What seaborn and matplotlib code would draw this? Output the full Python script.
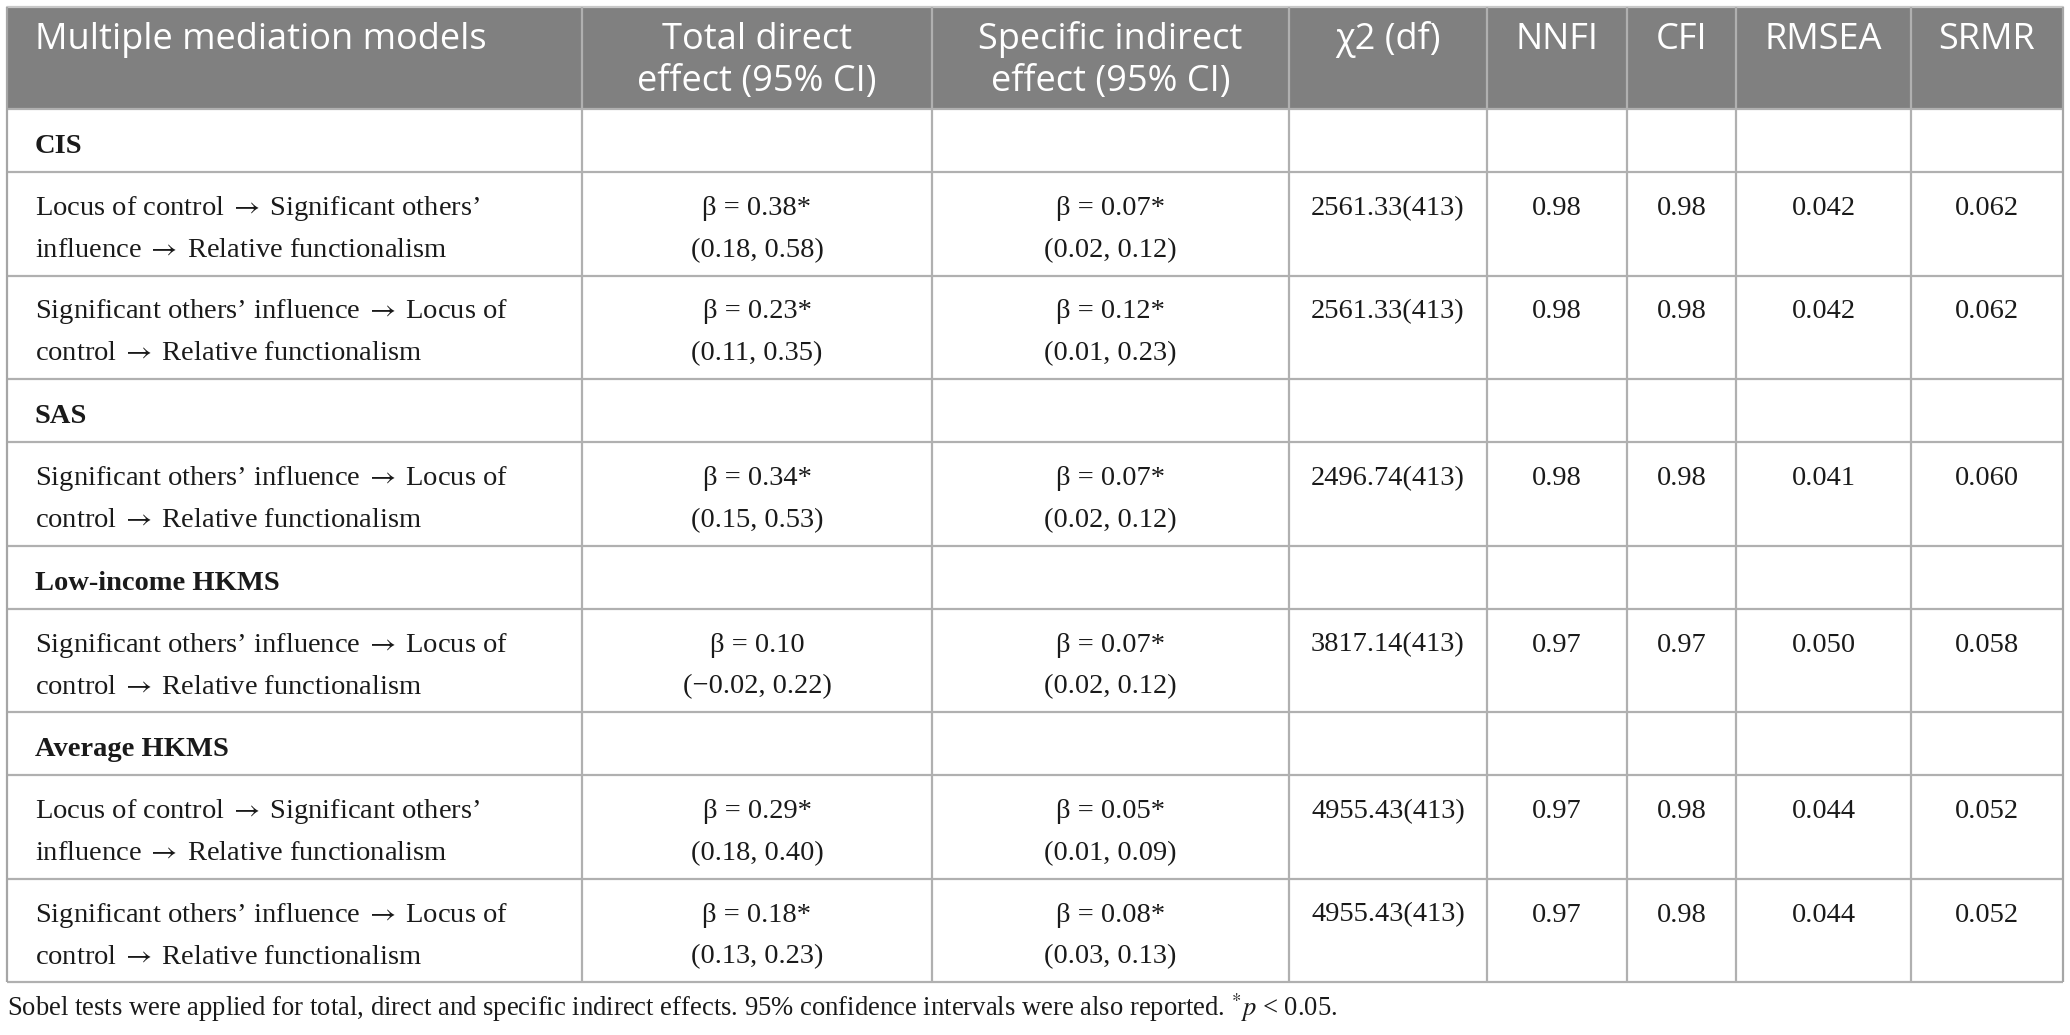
import matplotlib
matplotlib.use('Agg')
import matplotlib.pyplot as plt
from matplotlib.patches import Rectangle
import seaborn as sns

# data of the table
header = ["Multiple mediation models", "Total direct\neffect (95% CI)",
          "Specific indirect\neffect (95% CI)", "χ2 (df)", "NNFI", "CFI", "RMSEA", "SRMR"]

groups = ["CIS", "SAS", "Low-income HKMS", "Average HKMS"]
group_of_row = [0, 0, 1, 2, 3, 3]

path_a = "Locus of control → Significant others’\ninfluence → Relative functionalism"
path_b = "Significant others’ influence → Locus of\ncontrol → Relative functionalism"
models = [path_a, path_b, path_b, path_b, path_a, path_b]

direct_beta = ["β = 0.38*", "β = 0.23*", "β = 0.34*", "β = 0.10", "β = 0.29*", "β = 0.18*"]
direct_ci = ["(0.18, 0.58)", "(0.11, 0.35)", "(0.15, 0.53)", "(−0.02, 0.22)", "(0.18, 0.40)", "(0.13, 0.23)"]
indirect_beta = ["β = 0.07*", "β = 0.12*", "β = 0.07*", "β = 0.07*", "β = 0.05*", "β = 0.08*"]
indirect_ci = ["(0.02, 0.12)", "(0.01, 0.23)", "(0.02, 0.12)", "(0.02, 0.12)", "(0.01, 0.09)", "(0.03, 0.13)"]
chi2_df = ["2561.33(413)", "2561.33(413)", "2496.74(413)", "3817.14(413)", "4955.43(413)", "4955.43(413)"]
nnfi = ["0.98", "0.98", "0.98", "0.97", "0.97", "0.97"]
cfi = ["0.98", "0.98", "0.98", "0.97", "0.98", "0.98"]
rmsea = ["0.042", "0.042", "0.041", "0.050", "0.044", "0.044"]
srmr = ["0.062", "0.062", "0.060", "0.058", "0.052", "0.052"]

footnote = ("Sobel tests were applied for total, direct and specific indirect effects. "
            "95% confidence intervals were also reported. $^{*}\\mathit{p}$ < 0.05.")

# style
sns.set_theme(style="white")
plt.rcParams['font.family'] = ['Liberation Serif', 'DejaVu Serif']
plt.rcParams['mathtext.fontset'] = 'stix'

W, H = 2070, 1035
fig = plt.figure(figsize=(W / 100, H / 100), dpi=100)
ax = fig.add_axes([0, 0, 1, 1])
ax.set_xlim(0, W)
ax.set_ylim(H, 0)
ax.axis('off')

col_edges = [7, 582, 932, 1289, 1487, 1627, 1736, 1911, 2063]
head_h, group_h, row_h = 102, 63, 103.5
grid_col = '#b0b0b0'
head_col = '#808080'
text_col = '#1a1a1a'
body_size = 20.5
head_size = 26
foot_size = 19.2

# build row layout
layout = []
prev = None
for i, g in enumerate(group_of_row):
    if g != prev:
        layout.append(('group', g))
        prev = g
    layout.append(('data', i))

top = 7
ax.add_patch(Rectangle((col_edges[0], top), col_edges[-1] - col_edges[0], head_h,
                       facecolor=head_col, edgecolor='none'))
for j, h in enumerate(header):
    for k, ln in enumerate(h.split('\n')):
        if j == 0:
            x, ha = 35, 'left'
        else:
            x, ha = (col_edges[j] + col_edges[j + 1]) / 2, 'center'
        ax.text(x, top + 42 + 42 * k, ln, ha=ha, va='baseline', color='white',
                fontsize=head_size, family=['Open Sans', 'DejaVu Sans'])

y_edges = [top, top + head_h]
y = top + head_h
for kind, idx in layout:
    if kind == 'group':
        ax.text(35, y + 44, groups[idx], ha='left', va='baseline', fontsize=body_size,
                fontweight='bold', color=text_col)
        y += group_h
    else:
        cells = [models[idx], direct_beta[idx] + "\n" + direct_ci[idx],
                 indirect_beta[idx] + "\n" + indirect_ci[idx], chi2_df[idx],
                 nnfi[idx], cfi[idx], rmsea[idx], srmr[idx]]
        for j, c in enumerate(cells):
            for k, ln in enumerate(c.split('\n')):
                if j == 0:
                    x, ha = 35, 'left'
                else:
                    x, ha = (col_edges[j] + col_edges[j + 1]) / 2, 'center'
                ln = ln.replace(' → ', '$\\;\\rightarrow\\;$')
                ax.text(x, y + 43 + 42 * k, ln, ha=ha, va='baseline',
                        fontsize=body_size, color=text_col)
        y += row_h
    y_edges.append(y)

bottom = y
for ye in y_edges[1:]:
    ax.plot([col_edges[0], col_edges[-1]], [ye, ye], color=grid_col, lw=1.6,
            solid_capstyle='butt')
ax.plot([col_edges[0], col_edges[-1]], [top, top], color='#c8c8c8', lw=1.6)
for xe in col_edges:
    c = '#a6a6a6' if xe in (col_edges[0], col_edges[-1]) else grid_col
    ax.plot([xe, xe], [top, bottom], color=c, lw=1.6, solid_capstyle='butt')

ax.text(7, bottom + 34, footnote, ha='left', va='baseline', fontsize=foot_size,
        color=text_col)

fig.savefig('out.png', dpi=100)
